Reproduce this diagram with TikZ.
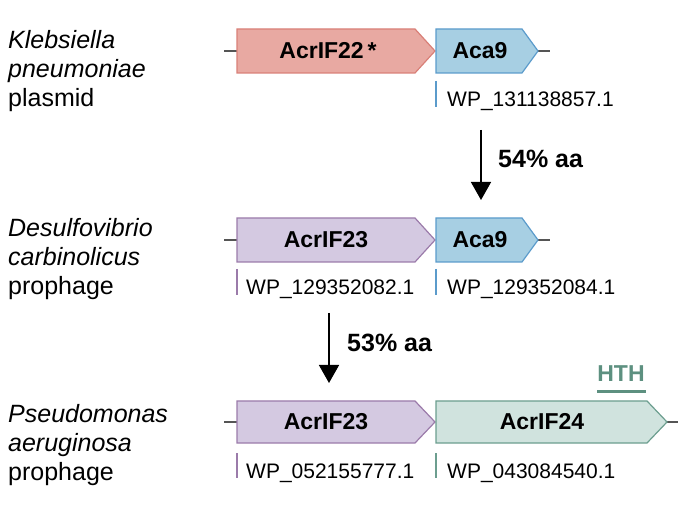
\documentclass[tikz,border=0pt]{standalone}
\usepackage{fontspec}
\setmainfont{Liberation Sans}
\usetikzlibrary{arrows.meta}

\definecolor{redfill}{HTML}{E8A9A2}
\definecolor{redline}{HTML}{D98078}
\definecolor{bluefill}{HTML}{A7CFE3}
\definecolor{blueline}{HTML}{5B9BCB}
\definecolor{purpfill}{HTML}{D4C9E1}
\definecolor{purpline}{HTML}{9B7BAA}
\definecolor{greenfill}{HTML}{D0E3DE}
\definecolor{greenline}{HTML}{6C9E8F}
\definecolor{hthcol}{HTML}{5D9080}
\definecolor{spine}{HTML}{555555}

\begin{document}
\begin{tikzpicture}[x=1pt,y=-1pt,
    species/.style={anchor=north west,align=left,inner sep=0pt,font=\fontsize{25}{29}\selectfont},
    genename/.style={font=\fontsize{23}{27}\selectfont\bfseries},
    accession/.style={anchor=base west,inner sep=0pt,font=\fontsize{21}{25}\selectfont},
    tick/.style={line width=1.3pt},
    genebody/.style={line width=1.2pt,line join=miter},
    backbone/.style={spine,line width=1.2pt},
    ident/.style={anchor=base west,inner sep=0pt,font=\fontsize{25}{29}\selectfont\bfseries},
    hom/.style={line width=1.5pt,-{Triangle[width=20pt,length=18pt]}}]
  \useasboundingbox (0,0) rectangle (688,510);

  %% species names
  \node (KP) at (8,30) [species] {\textit{Klebsiella}\\\textit{pneumoniae}\\plasmid};
  \node (DC) at (8,218) [species] {\textit{Desulfovibrio}\\\textit{carbinolicus}\\prophage};
  \node (PA) at (8,404) [species] {\textit{Pseudomonas}\\\textit{aeruginosa}\\prophage};

  %% row 1
  \draw[backbone] (224,51) -- (237,51);
  \draw[backbone] (538,51) -- (550,51);
  \filldraw[genebody,fill=redfill,draw=redline] (237,29) -- (415,29) -- (435,51) -- (415,73) -- (237,73) -- cycle;
  \filldraw[genebody,fill=bluefill,draw=blueline] (436,29) -- (522,29) -- (538,51) -- (522,73) -- (436,73) -- cycle;
  \node (ACRIF22) at (328,51) [genename] {AcrIF22\,*};
  \node (ACA9A) at (480,51) [genename] {Aca9};
  \draw[tick,blueline] (436,81) -- (436,107);
  \node (WPA) at (447,107) [accession] {WP\_131138857.1};

  %% row 2
  \draw[backbone] (224,240) -- (237,240);
  \draw[backbone] (538,240) -- (550,240);
  \filldraw[genebody,fill=purpfill,draw=purpline] (237,218) -- (415,218) -- (435,240) -- (415,262) -- (237,262) -- cycle;
  \filldraw[genebody,fill=bluefill,draw=blueline] (436,218) -- (522,218) -- (538,240) -- (522,262) -- (436,262) -- cycle;
  \node (ACRIF23A) at (326,240) [genename] {AcrIF23};
  \node (ACA9B) at (480,240) [genename] {Aca9};
  \draw[tick,purpline] (237,269) -- (237,295);
  \node (WPB) at (246,295) [accession] {WP\_129352082.1};
  \draw[tick,blueline] (436,269) -- (436,295);
  \node (WPC) at (447,295) [accession] {WP\_129352084.1};

  %% row 3
  \draw[backbone] (224,422) -- (237,422);
  \draw[backbone] (667,422) -- (678,422);
  \filldraw[genebody,fill=purpfill,draw=purpline] (237,401) -- (415,401) -- (435,422) -- (415,443) -- (237,443) -- cycle;
  \filldraw[genebody,fill=greenfill,draw=greenline] (436,401) -- (647,401) -- (667,422) -- (647,443) -- (436,443) -- cycle;
  \node (ACRIF23B) at (326,422) [genename] {AcrIF23};
  \node (ACRIF24) at (542,422) [genename] {AcrIF24};
  \draw[tick,purpline] (237,453) -- (237,478);
  \node (WPD) at (246,478) [accession] {WP\_052155777.1};
  \draw[tick,greenline] (436,453) -- (436,478);
  \node (WPE) at (447,478) [accession] {WP\_043084540.1};

  %% HTH domain
  \node (HTH) at (621,382) [anchor=base,inner sep=0pt,text=hthcol,font=\fontsize{23}{27}\selectfont\bfseries] {HTH};
  \draw[hthcol,line width=3pt] (597,392) -- (646,392);

  %% homology arrows
  \coordinate (S1) at (481,130);
  \coordinate (E1) at (481,200);
  \draw[hom] (S1) -- (E1);
  \node (ID1) at (498,168) [ident] {54\% aa};
  \coordinate (S2) at (329,313);
  \coordinate (E2) at (329,383);
  \draw[hom] (S2) -- (E2);
  \node (ID2) at (347,352) [ident] {53\% aa};
\end{tikzpicture}
\end{document}
